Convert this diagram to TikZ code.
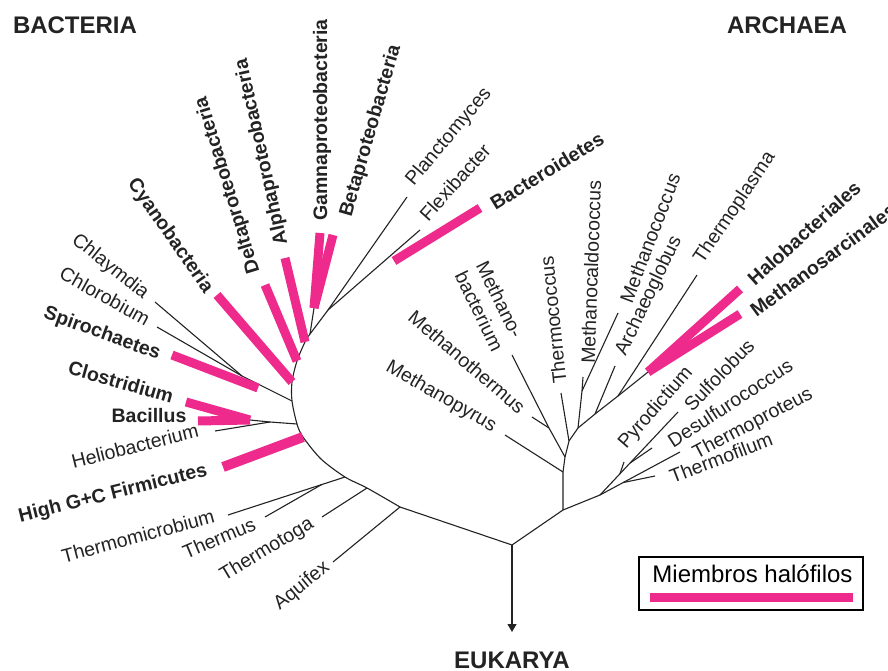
\documentclass[tikz,border=0pt]{standalone}
\usepackage{fontspec}
\setmainfont{Liberation Sans}
\usetikzlibrary{arrows.meta,calc}
\definecolor{hpink}{RGB}{238,42,140}
\definecolor{ink}{RGB}{35,35,35}
\begin{document}
\begin{tikzpicture}[x=1pt,y=-1pt,
  br/.style={draw=ink, line width=1.1pt},
  bar/.style={draw=hpink, line width=9pt},
  lbl/.style={inner sep=0pt, text=ink, font=\fontsize{19.5}{23.5}\selectfont},
  blbl/.style={inner sep=0pt, text=ink, font=\fontsize{19.5}{23.5}\selectfont\bfseries},
  big/.style={inner sep=0pt, text=ink, font=\fontsize{24}{28}\selectfont\bfseries}]
\path[use as bounding box, fill=white] (0,0) rectangle (888,671);

% titles
\node[big] (bacteria) at (75,25) {BACTERIA};
\node[big] (archaea) at (787,25) {ARCHAEA};
\node[big] (eukarya) at (512,660) {EUKARYA};

% root
\coordinate (R) at (512,545);
\coordinate (Eu) at (512,632);
\draw[br,-{Triangle[length=8pt,width=9pt]}] (R) -- (Eu);

% ---------------- ARCHAEA ----------------
\coordinate (A0) at (563,510);
\coordinate (A1) at (563,472);
\coordinate (A2) at (565,457);
\coordinate (A3) at (569,441);
\coordinate (A4) at (578,428);
\coordinate (C0) at (600,495);
\draw[br] (R) -- (A0) -- (C0);
\draw[br] (A0) -- (A1) -- (A2) -- (A3) -- (A4);
\coordinate (tMPy) at (505,435);
\draw[br] (A1) -- (tMPy);
\coordinate (jMTh) at (549,428);
\coordinate (tMBa) at (512,355);
\coordinate (tMTh) at (532,417);
\draw[br] (A2) -- (jMTh) -- (tMBa);
\draw[br] (jMTh) -- (tMTh);
\coordinate (tTCo) at (561,393);
\draw[br] (A3) -- (tTCo);
\coordinate (jMC) at (582,391);
\coordinate (tMCa) at (583,377);
\coordinate (tMCo) at (618,313);
\draw[br] (A4) -- (jMC) -- (tMCa);
\draw[br] (jMC) -- (tMCo);
\coordinate (jAg) at (595,414);
\coordinate (jTp) at (618,396);
\coordinate (hB) at (648,372);
\coordinate (tAg) at (615,366);
\coordinate (tTp) at (697,275);
\draw[br] (A4) -- (jAg) -- (jTp) -- (hB);
\draw[br] (jAg) -- (tAg);
\draw[br] (jTp) -- (tTp);
\coordinate (tHa) at (740,289);
\coordinate (tMs) at (740,314);
\draw[bar] (hB) -- (tHa);
\draw[bar] (hB) -- (tMs);
% crenarchaeota
\coordinate (tTpr) at (680,452);
\coordinate (tSu) at (678,412);
\draw[br] (C0) -- (tTpr);
\draw[br] (C0) -- (tSu);
\coordinate (jTf) at ($(C0)!0.29!(tTpr)$);
\coordinate (tTf) at (655,476);
\draw[br] (jTf) -- (tTf);
\coordinate (jDe) at ($(C0)!0.385!(tSu)$);
\coordinate (tDe) at (652,448);
\draw[br] (jDe) -- (tDe);
\coordinate (jPy) at ($(C0)!0.256!(tSu)$);
\coordinate (tPy) at (624,462);
\draw[br] (jPy) -- (tPy);

% ---------------- BACTERIA ----------------
\coordinate (B0) at (400,507);
\coordinate (B1) at (367,488);
\coordinate (B2) at (345,477);
\coordinate (Bc) at (321,459);
\coordinate (B3) at (303,437);
\coordinate (B4) at (297,424);
\coordinate (B5) at (292,401);
\coordinate (B6) at (292,382);
\coordinate (B7) at (297,361);
\coordinate (B8) at (305,342);
\coordinate (B9) at (310,334);
\draw[br] (R) -- (B0);
\draw[br] plot[smooth, tension=0.5] coordinates {(B0) (B1) (B2) (Bc) (B3) (B4) (B5) (B6) (B7) (B8) (B9)};

\coordinate (tAq) at (333,562);
\draw[br] (B0) -- (tAq);
\coordinate (tTt) at (322,517);
\draw[br] (B1) -- (tTt);
\coordinate (tTm) at (228,515);
\draw[br] (B2) -- (tTm);
\coordinate (jTh) at ($(B2)!0.2!(tTm)$);
\coordinate (tTh) at (265,517);
\draw[br] (jTh) -- (tTh);
\coordinate (tHG) at (223,467);
\draw[bar, line width=10pt] (B3) -- (tHG);
% bacillus group
\coordinate (jHe) at (270,422);
\coordinate (jBa) at (250,420);
\coordinate (tHe) at (215,431);
\draw[br] (B4) -- (jHe) -- (jBa);
\draw[br] (jHe) -- (tHe);
\coordinate (tBa) at (198,421);
\coordinate (tCl) at (186,402);
\draw[bar] (jBa) -- (tBa);
\draw[bar] (jBa) -- (tCl);
% chlamydia group
\coordinate (jCh) at (242,376);
\coordinate (tChl) at (155,302);
\coordinate (tCb) at (157,327);
\draw[br] (B5) -- (jCh);
\draw[br] (jCh) -- (tChl);
\draw[br] (jCh) -- (tCb);
\coordinate (bSp) at (258,388);
\coordinate (tSp) at (172,355);
\draw[bar] (bSp) -- (tSp);
% proteobacteria etc.
\coordinate (tCy) at (217,295);
\draw[bar] (B6) -- (tCy);
\coordinate (tDl) at (265,285);
\draw[bar] (B7) -- (tDl);
\coordinate (tAl) at (285,258);
\draw[bar] (B8) -- (tAl);
\coordinate (jGB) at (314,308);
\coordinate (tGa) at (320,233);
\coordinate (tBe) at (333,235);
\draw[br] (B9) -- (jGB);
\draw[bar] (jGB) -- (tGa);
\draw[bar] (jGB) -- (tBe);
\coordinate (jPF) at (328,310);
\coordinate (tPl) at (407,197);
\coordinate (tFl) at (420,230);
\draw[br] (B9) -- (jPF) -- (tPl);
\draw[br] (jPF) -- (tFl);
\coordinate (bBc) at (394,261);
\coordinate (tBc) at (480,208);
\draw[bar] (bBc) -- (tBc);

% ---------------- LABELS ----------------
\node[blbl, rotate=-55] (lCy) at (170,236) {Cyanobacteria};
\node[blbl, rotate=107] (lDl) at (228,185) {Deltaproteobacteria};
\node[blbl, rotate=102.5] (lAl) at (262,152) {Alphaproteobacteria};
\node[blbl, rotate=90] (lGa) at (322,120) {Gamnaproteobacteria};
\node[blbl, rotate=74] (lBe) at (371,131) {Betaproteobacteria};
\node[lbl, rotate=50] (lPl) at (449,137) {Planctomyces};
\node[lbl, rotate=48] (lFl) at (455,182) {Flexibacter};
\node[blbl, rotate=31.5] (lBc) at (547,171) {Bacteroidetes};
\node[lbl, rotate=-38.6] (lChl) at (110,267) {Chlaymdia};
\node[lbl, rotate=-29] (lCb) at (105,296) {Chlorobium};
\node[blbl, rotate=-20] (lSp) at (102,334) {Spirochaetes};
\node[blbl, rotate=-16] (lCl) at (121,382) {Clostridium};
\node[blbl] (lBa) at (149,416) {Bacillus};
\node[lbl, rotate=14] (lHe) at (135,446) {Heliobacterium};
\node[blbl, rotate=14] (lHG) at (113,494) {High G+C Firmicutes};
\node[lbl, rotate=15] (lTm) at (138,536) {Thermomicrobium};
\node[lbl, rotate=23] (lTh) at (219,538) {Thermus};
\node[lbl, rotate=31] (lTt) at (267,550) {Thermotoga};
\node[lbl, rotate=39] (lAq) at (302,586) {Aquifex};

\node[lbl, rotate=-30] (lMPy) at (441,397) {Methanopyrus};
\node[lbl, rotate=-40.6] (lMTh) at (467,362) {Methanothermus};
\node[lbl, rotate=-64, align=left] (lMBa) at (490,306) {Methano-\\bacterium};
\node[lbl, rotate=96] (lTCo) at (553,320) {Thermococcus};
\node[lbl, rotate=88] (lMCa) at (591,272) {Methanocaldococcus};
\node[lbl, rotate=69] (lMCo) at (650,238) {Methanococcus};
\node[lbl, rotate=64.6] (lAg) at (649,296) {Archaeoglobus};
\node[lbl, rotate=56] (lTp) at (735,208) {Thermoplasma};
\node[blbl, rotate=42] (lHa) at (804,233) {Halobacteriales};
\node[blbl, rotate=36.5] (lMs) at (823,260) {Methanosarcinales};
\node[lbl, rotate=49] (lPy) at (656,408) {Pyrodictium};
\node[lbl, rotate=46] (lSu) at (719,375) {Sulfolobus};
\node[lbl, rotate=33] (lDe) at (730,403) {Desulfurococcus};
\node[lbl, rotate=27.7] (lTpr) at (753,424) {Thermoproteus};
\node[lbl, rotate=21] (lTf) at (721,458) {Thermofilum};

% ---------------- LEGEND ----------------
\node[draw=black, line width=2pt, minimum width=224pt, minimum height=53pt, inner sep=0pt] (legend) at (751,583.5) {};
\node[lbl, font=\fontsize{24}{28}\selectfont, anchor=base, text=black] (legtext) at (752.5,582) {Miembros halófilos};
\coordinate (lgA) at (650,597.5);
\coordinate (lgB) at (853,597.5);
\draw[bar] (lgA) -- (lgB);
\end{tikzpicture}
\end{document}
